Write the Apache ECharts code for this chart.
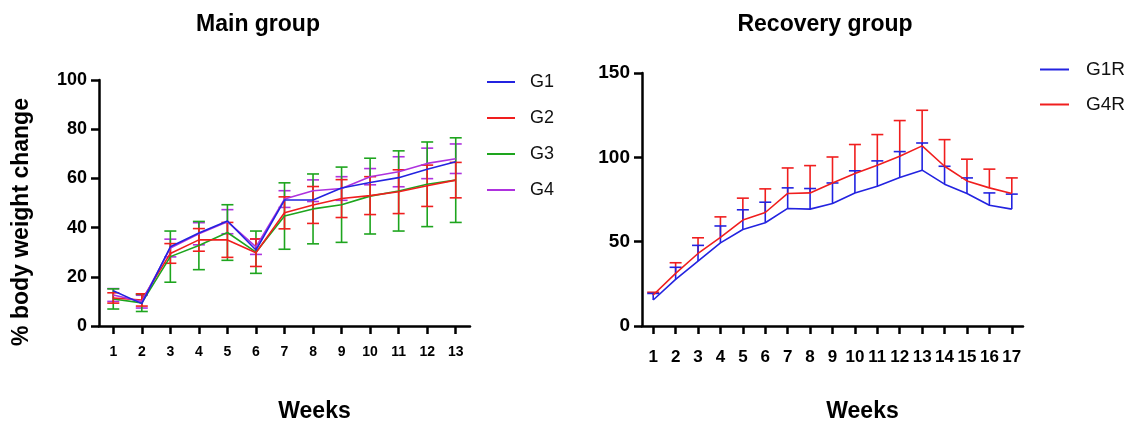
<!DOCTYPE html>
<html>
<head>
<meta charset="utf-8">
<script src="https://cdn.jsdelivr.net/npm/echarts@6/dist/echarts.min.js"></script>
<style>
  html, body { margin: 0; padding: 0; background: #fff; }
  #chart { width: 1132px; height: 422px; }
</style>
</head>
<body>
<div id="chart"></div>
<script>
// main group, weeks 1-13 (mean and SD, % body weight change)
const mainWeeks = ['1', '2', '3', '4', '5', '6', '7', '8', '9', '10', '11', '12', '13'];
const g1Mean = [14.3, 9.1, 32.2, 37.8, 42.7, 30.9, 51.2, 51.2, 56.1, 58.3, 60.3, 63.7, 66.8];
const g2Mean = [11.4, 10.6, 29.5, 35.0, 35.0, 29.8, 46.0, 49.2, 51.8, 53.0, 54.6, 57.0, 59.3];
const g2Sd = [2.1, 2.5, 4.0, 4.6, 7.1, 5.6, 6.5, 7.5, 7.7, 7.7, 8.9, 8.4, 7.2];
const g3Mean = [11.0, 9.4, 28.2, 32.7, 38.0, 30.0, 44.7, 47.6, 49.3, 52.8, 54.9, 57.6, 59.3];
const g3Sd = [4.1, 3.5, 10.4, 9.8, 11.3, 8.6, 13.5, 14.2, 15.3, 15.4, 16.3, 17.2, 17.2];
const g4Mean = [12.6, 9.9, 31.7, 37.5, 42.4, 32.2, 51.6, 55.0, 55.9, 60.7, 62.7, 66.1, 68.0];
const g4Sd = [2.6, 2.6, 3.6, 4.5, 4.9, 3.1, 3.4, 4.4, 4.8, 3.3, 6.1, 6.2, 6.0];

// recovery group, weeks 1-17
const recWeeks = ['1', '2', '3', '4', '5', '6', '7', '8', '9', '10', '11', '12', '13', '14', '15', '16', '17'];
const g1rMean = [15.4, 27.6, 38.5, 49.3, 57.2, 61.2, 69.7, 69.3, 72.6, 78.9, 82.9, 88.0, 92.4, 84.1, 78.6, 71.6, 69.3];
const g1rSd = [3.9, 7.2, 9.3, 10.0, 11.7, 12.2, 12.2, 12.2, 12.2, 13.1, 15.0, 15.4, 16.1, 10.6, 9.2, 7.3, 8.9];
const g4rMean = [18.4, 31.2, 43.0, 52.5, 62.8, 67.3, 78.6, 78.9, 84.8, 90.4, 95.3, 100.6, 106.8, 94.7, 86.0, 81.9, 78.6];
const g4rSd = [1.6, 6.3, 9.3, 12.2, 13.0, 14.0, 15.1, 16.2, 15.4, 17.2, 18.2, 21.2, 21.1, 15.8, 12.9, 11.1, 9.2];

const BLUE = '#2323e0';
const RED = '#f01e1e';
const GREEN = '#1ea51e';
const PURPLE = '#ae32de';
const FONT = '"Liberation Sans", Arial, sans-serif';

function bothSides(mean, sd) {
  return mean.map((m, i) => [i, m - sd[i], m + sd[i]]);
}
function upperSide(mean, sd) {
  return mean.map((m, i) => [i, m, m + sd[i]]);
}

function errorBars(color, capW, withLow) {
  return function (params, api) {
    const idx = api.value(0);
    const lo = api.coord([idx, api.value(1)]);
    const hi = api.coord([idx, api.value(2)]);
    const style = { stroke: color, lineWidth: 1.6, fill: null };
    const kids = [
      { type: 'line', shape: { x1: hi[0], y1: hi[1], x2: lo[0], y2: lo[1] }, style: style },
      { type: 'line', shape: { x1: hi[0] - capW / 2, y1: hi[1], x2: hi[0] + capW / 2, y2: hi[1] }, style: style }
    ];
    if (withLow) {
      kids.push({ type: 'line', shape: { x1: lo[0] - capW / 2, y1: lo[1], x2: lo[0] + capW / 2, y2: lo[1] }, style: style });
    }
    return { type: 'group', children: kids };
  };
}

function errSeries(data, color, axis, withLow) {
  return {
    type: 'custom',
    xAxisIndex: axis,
    yAxisIndex: axis,
    renderItem: errorBars(color, 12, withLow),
    encode: { x: 0, y: [1, 2] },
    data: data,
    z: 2,
    silent: true
  };
}

function lineSeries(name, data, color, axis) {
  return {
    name: name,
    type: 'line',
    xAxisIndex: axis,
    yAxisIndex: axis,
    data: data,
    symbol: 'none',
    color: color,
    lineStyle: { color: color, width: 1.6 },
    z: 3
  };
}

const axisLine = { show: true, lineStyle: { color: '#000', width: 2.5 } };
const axisTick = { show: true, length: 8, lineStyle: { color: '#000', width: 2.5 } };

const chart = echarts.init(document.getElementById('chart'));
chart.setOption({
  backgroundColor: '#fff',
  animation: false,
  textStyle: { fontFamily: FONT },
  title: [
    { text: 'Main group', left: 253, top: 8, textAlign: 'center',
      textStyle: { fontFamily: FONT, fontSize: 23, fontWeight: 'bold', color: '#000' } },
    { text: 'Recovery group', left: 820, top: 8, textAlign: 'center',
      textStyle: { fontFamily: FONT, fontSize: 23, fontWeight: 'bold', color: '#000' } }
  ],
  legend: [
    { data: ['G1', 'G2', 'G3', 'G4'], orient: 'vertical', left: 482, top: 68,
      icon: 'rect', itemWidth: 28, itemHeight: 2, itemGap: 18,
      textStyle: { fontFamily: FONT, fontSize: 18, color: '#111', padding: [0, 0, 0, 10] } },
    { data: ['G1R', 'G4R'], orient: 'vertical', left: 1035, top: 55,
      icon: 'rect', itemWidth: 29, itemHeight: 2, itemGap: 16,
      textStyle: { fontFamily: FONT, fontSize: 19, color: '#111', padding: [0, 0, 0, 12] } }
  ],
  grid: [
    { left: 99, top: 80, right: 662, bottom: 96, containLabel: false, outerBoundsMode: 'none' },
    { left: 642, top: 73, right: 109, bottom: 96, containLabel: false, outerBoundsMode: 'none' }
  ],
  xAxis: [
    { type: 'category', gridIndex: 0, data: mainWeeks,
      name: 'Weeks', nameLocation: 'middle', nameGap: 74,
      nameTextStyle: { fontFamily: FONT, fontSize: 23, fontWeight: 'bold', color: '#000', padding: [0, 0, 0, 60] },
      axisLine: axisLine, axisTick: Object.assign({ alignWithLabel: true, interval: 0 }, axisTick),
      axisLabel: { interval: 0, margin: 19, fontFamily: FONT, fontSize: 14, fontWeight: 'bold', color: '#000' } },
    { type: 'category', gridIndex: 1, data: recWeeks,
      name: 'Weeks', nameLocation: 'middle', nameGap: 74,
      nameTextStyle: { fontFamily: FONT, fontSize: 23, fontWeight: 'bold', color: '#000', padding: [0, 0, 0, 60] },
      axisLine: axisLine, axisTick: Object.assign({ alignWithLabel: true, interval: 0 }, axisTick),
      axisLabel: { interval: 0, margin: 23, fontFamily: FONT, fontSize: 17, fontWeight: 'bold', color: '#000' } }
  ],
  yAxis: [
    { type: 'value', gridIndex: 0, min: 0, max: 100, interval: 20,
      name: '% body weight change', nameLocation: 'middle', nameGap: 66,
      nameTextStyle: { fontFamily: FONT, fontSize: 23, fontWeight: 'bold', color: '#000', padding: [0, 38, 0, 0] },
      axisLine: axisLine, axisTick: axisTick, splitLine: { show: false },
      axisLabel: { margin: 12, fontFamily: FONT, fontSize: 18, fontWeight: 'bold', color: '#000' } },
    { type: 'value', gridIndex: 1, min: 0, max: 150, interval: 50,
      axisLine: axisLine, axisTick: axisTick, splitLine: { show: false },
      axisLabel: { margin: 12, fontFamily: FONT, fontSize: 19, fontWeight: 'bold', color: '#000' } }
  ],
  series: [
    errSeries(bothSides(g4Mean, g4Sd), PURPLE, 0, true),
    errSeries(bothSides(g3Mean, g3Sd), GREEN, 0, true),
    errSeries(bothSides(g2Mean, g2Sd), RED, 0, true),
    lineSeries('G3', g3Mean, GREEN, 0),
    lineSeries('G2', g2Mean, RED, 0),
    lineSeries('G4', g4Mean, PURPLE, 0),
    lineSeries('G1', g1Mean, BLUE, 0),
    errSeries(upperSide(g4rMean, g4rSd), RED, 1, false),
    errSeries(upperSide(g1rMean, g1rSd), BLUE, 1, false),
    lineSeries('G4R', g4rMean, RED, 1),
    lineSeries('G1R', g1rMean, BLUE, 1)
  ]
});
</script>
</body>
</html>
